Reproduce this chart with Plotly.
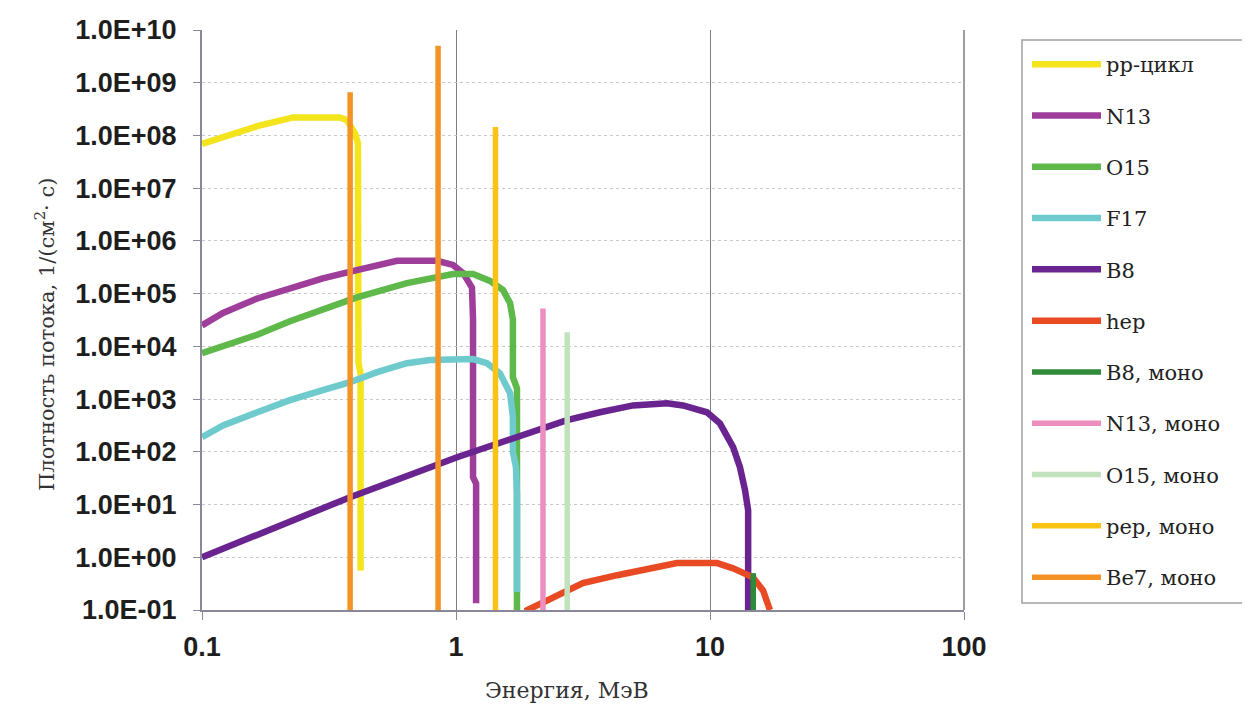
import plotly.graph_objects as go

# ---------------- data (energy in MeV, flux in 1/(cm2 s)) ----------------
pp_x = [0.100, 0.121, 0.165, 0.228, 0.349, 0.372, 0.400, 0.411, 0.413, 0.413, 0.421, 0.421]
pp_y = [6.9e7, 9.3e7, 1.5e8, 2.2e8, 2.2e8, 1.95e8, 1.1e8, 7.2e7, 1.0e6, 5.0e3, 3.0e3, 0.56]

n13_x = [0.100, 0.121, 0.165, 0.222, 0.299, 0.407, 0.586, 0.841, 0.973, 1.067, 1.156, 1.167, 1.167, 1.200, 1.200]
n13_y = [2.5e4, 4.3e4, 8.1e4, 1.3e5, 1.95e5, 2.8e5, 4.2e5, 4.2e5, 3.5e5, 2.45e5, 1.3e5, 3.2e4, 33, 25, 0.135]

o15_x = [0.100, 0.165, 0.222, 0.299, 0.407, 0.641, 0.811, 0.973, 1.167, 1.361, 1.531, 1.633, 1.675, 1.675, 1.738, 1.738]
o15_y = [7.4e3, 1.66e4, 3.0e4, 4.9e4, 8.5e4, 1.58e5, 1.9e5, 2.35e5, 2.35e5, 1.74e5, 1.17e5, 6.6e4, 3.2e4, 2.6e3, 1.6e3, 0.1]

f17_x = [0.100, 0.121, 0.165, 0.222, 0.299, 0.383, 0.489, 0.641, 0.791, 1.167, 1.324, 1.489, 1.633, 1.675, 1.675, 1.722, 1.738, 1.738]
f17_y = [190, 316, 562, 955, 1480, 2090, 3240, 4790, 5500, 5750, 4790, 3090, 1290, 457, 100, 51, 16, 0.22]

b8_x = [0.100, 0.383, 1.01, 1.49, 2.735, 3.69, 4.98, 6.78, 7.83, 9.72, 10.94, 12.33, 13.12, 13.74, 14.13, 14.13]
b8_y = [1.0, 13.8, 79, 151, 398, 562, 759, 832, 759, 562, 347, 123, 51, 18.6, 7.8, 0.1]

hep_x = [1.87, 2.34, 3.16, 4.31, 5.81, 7.41, 10.67, 12.33, 14.76, 16.18, 17.22]
hep_y = [0.095, 0.166, 0.324, 0.457, 0.617, 0.776, 0.776, 0.617, 0.417, 0.234, 0.1]

# monoenergetic lines: energy and peak flux
b8_mono_e, b8_mono_f = [14.8], [0.50]
n13_mono_e, n13_mono_f = [2.20], [5.2e4]
o15_mono_e, o15_mono_f = [2.74], [1.86e4]
pep_mono_e, pep_mono_f = [1.43], [1.45e8]
be7_mono_e, be7_mono_f = [0.383, 0.850], [6.6e8, 5.0e9]

axis_floor = 0.1

y_tickvals = [1e-1, 1e0, 1e1, 1e2, 1e3, 1e4, 1e5, 1e6, 1e7, 1e8, 1e9, 1e10]
y_ticktext = ["1.0E-01", "1.0E+00", "1.0E+01", "1.0E+02", "1.0E+03", "1.0E+04",
              "1.0E+05", "1.0E+06", "1.0E+07", "1.0E+08", "1.0E+09", "1.0E+10"]
x_tickvals = [0.1, 1, 10, 100]
x_ticktext = ["0.1", "1", "10", "100"]

names = ["pp-цикл", "N13", "O15", "F17", "B8", "hep",
         "B8, моно", "N13, моно", "O15, моно", "pep, моно", "Be7, моно"]
colors = ["#f3e41c", "#9e3d9a", "#5fb84a", "#6ecacc", "#6a2490", "#e84a23",
          "#2f8a3c", "#ec8fc0", "#c1e2bd", "#fdc314", "#f39325"]


def mono(es, fs):
    xs, ys = [], []
    for e, f in zip(es, fs):
        xs += [e, e, None]
        ys += [axis_floor, f, None]
    return xs, ys


curves = [(pp_x, pp_y), (n13_x, n13_y), (o15_x, o15_y), (f17_x, f17_y),
          (b8_x, b8_y), (hep_x, hep_y),
          mono(b8_mono_e, b8_mono_f), mono(n13_mono_e, n13_mono_f),
          mono(o15_mono_e, o15_mono_f), mono(pep_mono_e, pep_mono_f),
          mono(be7_mono_e, be7_mono_f)]

fig = go.Figure()
for i, ((xs, ys), nm, col) in enumerate(zip(curves, names, colors)):
    fig.add_trace(go.Scatter(
        x=xs, y=ys, mode="lines", name=nm, legendgroup=f"g{i}",
        line=dict(color=col, width=6.5 if i < 6 else 5.5),
        connectgaps=False, hoverinfo="skip"))

# page body has an 8px margin, so the figure origin sits at (8, 8) in the window
OX, OY = 8, 8
L, R, T, B = 202 - OX, 286 + OX, 30 - OY, 101 + OY
W, H = 1250, 711
PW, PH = W - L - R, H - T - B

SERIF = "DejaVu Serif"


def px_x(p):
    return (p - OX - L) / PW


def px_y(p):
    return (H - B - (p - OY)) / PH


fig.update_layout(
    width=W, height=H,
    margin=dict(l=L, r=R, t=T, b=B, pad=0, autoexpand=False),
    paper_bgcolor="white", plot_bgcolor="white",
    showlegend=True,
    legend=dict(
        x=px_x(1027), y=px_y(44), xanchor="left", yanchor="top",
        font=dict(family=SERIF, size=21, color="#222222"),
        bgcolor="rgba(0,0,0,0)", borderwidth=0,
        itemwidth=69, tracegroupgap=21, traceorder="grouped"),
    xaxis=dict(
        type="log", range=[-1, 2], tickvals=x_tickvals, ticktext=x_ticktext,
        tickfont=dict(family="Liberation Sans", size=27, color="#1e1e1e", weight="bold"),
        showline=True, linecolor="#8a8898", linewidth=2,
        ticks="outside", ticklen=8, tickcolor="#8a8898", tickwidth=1,
        ticklabelstandoff=4,
        showgrid=True, gridcolor="#7d7d85", gridwidth=1,
        zeroline=False, mirror=False),
    yaxis=dict(
        type="log", range=[-1, 10], tickvals=y_tickvals, ticktext=y_ticktext,
        tickfont=dict(family="Liberation Sans", size=27, color="#1e1e1e", weight="bold"),
        showline=True, linecolor="#8a8898", linewidth=2,
        ticks="outside", ticklen=7, tickcolor="#8a8898", tickwidth=1,
        ticklabelstandoff=11,
        showgrid=True, gridcolor="#c8c8c8", gridwidth=1, griddash="dot",
        zeroline=False),
    annotations=[
        dict(text="Энергия, МэВ", xref="paper", yref="paper",
             x=px_x(567), y=px_y(690), showarrow=False,
             xanchor="center", yanchor="middle",
             font=dict(family=SERIF, size=22, color="#333333")),
        dict(text="Плотность потока, 1/(см<sup>2</sup>· с)", xref="paper", yref="paper",
             x=px_x(45), y=px_y(335), showarrow=False, textangle=-90,
             xanchor="center", yanchor="middle",
             font=dict(family=SERIF, size=21, color="#333333")),
    ],
    shapes=[
        dict(type="rect", xref="paper", yref="paper",
             x0=px_x(1022), x1=px_x(1247), y0=px_y(603), y1=px_y(40),
             line=dict(color="#a0a0a0", width=1.5), fillcolor="rgba(0,0,0,0)", layer="below"),
        dict(type="line", xref="paper", yref="paper", x0=1, x1=1, y0=0, y1=1,
             line=dict(color="#7d7d85", width=1.5), layer="below"),
    ],
)

fig.write_html("out.html")
